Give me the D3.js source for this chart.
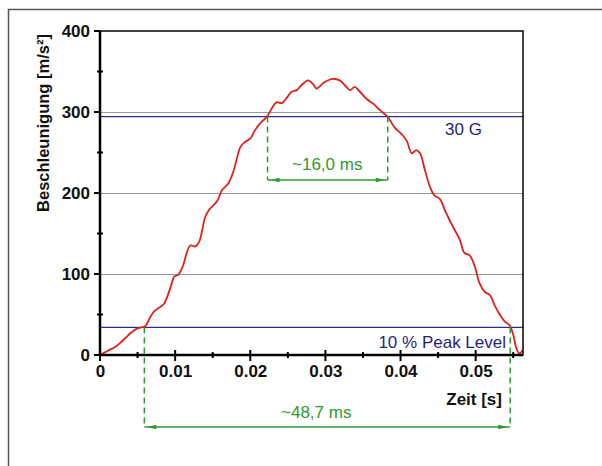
<!DOCTYPE html>
<html>
<head>
<meta charset="utf-8">
<script src="https://cdn.jsdelivr.net/npm/d3@7"></script>
<style>
  html, body { margin: 0; padding: 0; background: #fff; }
  svg { display: block; }
  text { font-family: "Liberation Sans", Arial, sans-serif; }
</style>
</head>
<body>
<svg id="chart" width="602" height="466"></svg>
<script>
// Shock pulse: acceleration over time
const timeMs = [0, 1.0, 2.0, 2.7, 3.5, 4.2, 4.8, 5.5, 6.0, 6.7, 7.2, 7.8, 8.5, 9.4, 9.9, 10.4, 11.0, 12.0, 12.7, 13.2,
  14.0, 14.5, 15.6, 16.2, 17.1, 17.8, 18.7, 19.3, 20.0, 20.6, 21.3, 22.2, 23.1, 23.5, 24.2, 24.9, 25.5, 26.2, 26.8, 27.7,
  28.4, 28.8, 29.9, 31.0, 31.9, 32.6, 33.3, 33.9, 34.6, 35.5, 36.4, 37.3, 38.3, 39.2, 40.1, 40.8, 41.5, 42.1, 42.6, 43.2,
  43.9, 44.5, 45.2, 45.9, 46.5, 47.0, 47.9, 48.5, 49.2, 49.9, 50.5, 51.2, 51.9, 52.5, 53.2, 53.9, 54.5, 55.0, 55.4, 55.8, 56.3];
const accel = [0, 5, 10, 15, 22, 28, 32, 34, 35.5, 47, 54, 58, 63, 84, 97, 99, 109, 135, 134, 140,
  170, 179, 190, 203, 212, 228, 257, 263, 267, 277, 286, 294, 308, 312, 311, 318, 325, 327, 333, 339,
  334, 329, 337, 341, 339, 333, 327, 331, 325, 316, 310, 302, 294, 281, 273, 265, 249, 253, 249, 230,
  208, 197, 193, 179, 167, 158, 142, 126, 123, 109, 89, 78, 74, 62, 50, 41, 37, 25, 9, 2, 6];

const yMajor = [0, 100, 200, 300, 400];
const yMinor = [50, 150, 250, 350];
const xMajor = [0, 0.01, 0.02, 0.03, 0.04, 0.05];
const xMinor = [0.005, 0.015, 0.025, 0.035, 0.045, 0.055];
const xTickLabels = ["0", "0.01", "0.02", "0.03", "0.04", "0.05"];
const gridValues = [100, 200, 300];

const levels = [
  { name: "30 G", value: 294.3 },
  { name: "10 % Peak Level", value: 34.1 }
];
// Pulse widths: [start, end] in seconds
const widthAt30G = [0.0223, 0.0383];
const widthAt10 = [0.0059, 0.0546];
const widthLabels = ["~16,0 ms", "~48,7 ms"];

const svg = d3.select("#chart");
const x = d3.scaleLinear().domain([0, 0.0563]).range([100, 523]);
const y = d3.scaleLinear().domain([0, 400]).range([355, 31]);

const navy = "#1f1f80", green = "#2e9a2e", red = "#e0201c";
const fs = 17;

// outer frame
svg.append("path").attr("d", "M8.5,470V9.5H610")
  .attr("fill", "none").attr("stroke", "#555").attr("stroke-width", 1.5);

svg.append("clipPath").attr("id", "plot")
  .append("rect").attr("x", x(0)).attr("y", y(400)).attr("width", x(0.0563) - x(0)).attr("height", y(0) - y(400));

// grid
svg.append("g").selectAll("line").data(gridValues).join("line")
  .attr("x1", x(0)).attr("x2", x(0.0563)).attr("y1", d => y(d) + 0.5).attr("y2", d => y(d) + 0.5)
  .attr("stroke", "#999").attr("stroke-width", 1);

// reference levels
svg.append("g").selectAll("line").data(levels).join("line")
  .attr("x1", x(0)).attr("x2", x(0.0563)).attr("y1", d => y(d.value)).attr("y2", d => y(d.value))
  .attr("stroke", "#2d2d8c").attr("stroke-width", 1.2);

// pulse curve
const line = d3.line().x((d, i) => x(timeMs[i] / 1000)).y(d => y(d)).curve(d3.curveCatmullRom.alpha(0.5));
svg.append("path").datum(accel).attr("d", line).attr("clip-path", "url(#plot)")
  .attr("fill", "none").attr("stroke", red).attr("stroke-width", 1.8);

// width markers
function widthMarker(span, level, barY, label, labelX, labelY) {
  const g = svg.append("g");
  span.forEach(t => {
    g.append("line").attr("x1", x(t)).attr("x2", x(t)).attr("y1", y(level)).attr("y2", barY)
      .attr("stroke", green).attr("stroke-width", 1.5).attr("stroke-dasharray", "6,4");
  });
  const x0 = x(span[0]), x1 = x(span[1]);
  g.append("line").attr("x1", x0).attr("x2", x1).attr("y1", barY).attr("y2", barY)
    .attr("stroke", green).attr("stroke-width", 1.3);
  g.append("path").attr("d", `M${x0 + 3},${barY}l9,-2.2v4.4z`).attr("fill", green);
  g.append("path").attr("d", `M${x1 - 3},${barY}l-9,-2.2v4.4z`).attr("fill", green);
  g.append("text").attr("x", labelX).attr("y", labelY).attr("fill", green)
    .attr("font-size", fs).text(label);
}
widthMarker(widthAt30G, levels[0].value, 180, widthLabels[0], 292, 170);
widthMarker(widthAt10, levels[1].value, 427, widthLabels[1], 281, 418);

// plot box
svg.append("rect").attr("x", x(0)).attr("y", y(400)).attr("width", x(0.0563) - x(0)).attr("height", y(0) - y(400))
  .attr("fill", "none").attr("stroke", "#000").attr("stroke-width", 1.5);

// axes
const ax = svg.append("g").attr("stroke", "#000");
ax.append("line").attr("x1", x(0)).attr("x2", x(0)).attr("y1", y(400)).attr("y2", y(0) + 1).attr("stroke-width", 2.5);
ax.append("line").attr("x1", x(0) - 1).attr("x2", x(0.0563)).attr("y1", y(0)).attr("y2", y(0)).attr("stroke-width", 2.5);
ax.selectAll(".ym").data(yMajor).join("line").attr("x1", x(0) - 6).attr("x2", x(0)).attr("y1", d => y(d)).attr("y2", d => y(d)).attr("stroke-width", 2);
ax.selectAll(".yn").data(yMinor).join("line").attr("x1", x(0) - 3).attr("x2", x(0) + 3).attr("y1", d => y(d)).attr("y2", d => y(d)).attr("stroke-width", 2);
ax.selectAll(".xm").data(xMajor).join("line").attr("x1", d => x(d)).attr("x2", d => x(d)).attr("y1", y(0) - 5).attr("y2", y(0) + 6).attr("stroke-width", 2);
ax.selectAll(".xn").data(xMinor).join("line").attr("x1", d => x(d)).attr("x2", d => x(d)).attr("y1", y(0) - 3).attr("y2", y(0) + 3).attr("stroke-width", 2);

const yAxis = svg.append("g").attr("transform", `translate(${x(0) - 10},0)`)
  .call(d3.axisLeft(y).tickValues(yMajor).tickFormat(d3.format("d")).tickSize(0).tickPadding(0));
yAxis.select(".domain").remove();
yAxis.selectAll("text").attr("font-size", fs).attr("font-weight", "bold").attr("fill", "#111")
  .attr("font-family", '"Liberation Sans", Arial, sans-serif');

const xAxis = svg.append("g").attr("transform", `translate(0,${y(0) + 10})`)
  .call(d3.axisBottom(x).tickValues(xMajor).tickFormat((d, i) => xTickLabels[i]).tickSize(0).tickPadding(0));
xAxis.select(".domain").remove();
xAxis.selectAll("text").attr("font-size", fs).attr("font-weight", "bold").attr("fill", "#111")
  .attr("font-family", '"Liberation Sans", Arial, sans-serif').attr("dy", "0.71em");

// titles
svg.append("text").attr("transform", "translate(49,123) rotate(-90)").attr("text-anchor", "middle")
  .attr("font-size", 16.5).attr("font-weight", "bold").attr("fill", "#111").text("Beschleunigung [m/s²]");
svg.append("text").attr("x", 502).attr("y", 405).attr("text-anchor", "end")
  .attr("font-size", fs).attr("font-weight", "bold").attr("fill", "#111").text("Zeit [s]");

// level labels
svg.append("text").attr("x", 445).attr("y", 135).attr("font-size", fs).attr("fill", navy).text(levels[0].name);
svg.append("text").attr("x", 506).attr("y", 348).attr("text-anchor", "end").attr("font-size", fs).attr("fill", navy).text(levels[1].name);
</script>
</body>
</html>
